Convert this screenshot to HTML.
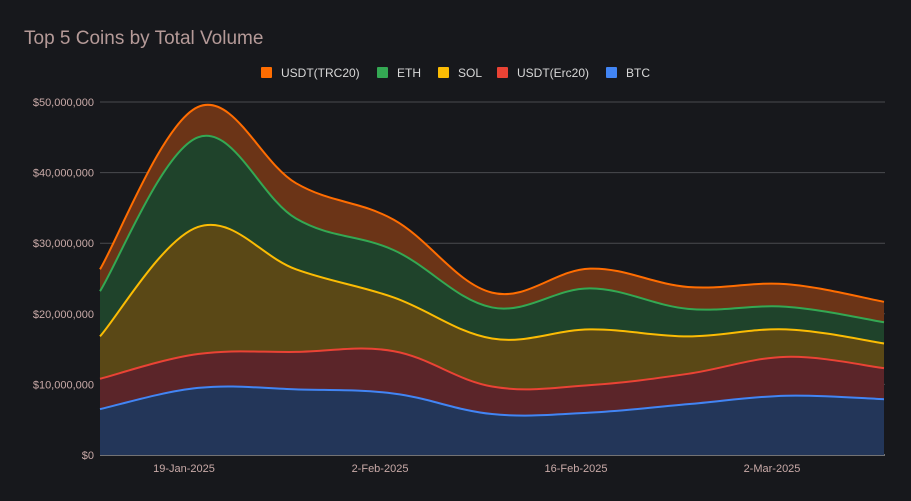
<!DOCTYPE html>
<html><head><meta charset="utf-8"><style>
body{margin:0;background:#17181c;}
svg{display:block;font-family:"Liberation Sans",sans-serif;}
</style></head><body>
<svg id="chart" width="911" height="501">
<rect width="911" height="501" fill="#17181c"/>
<text x="24" y="44" font-size="19" fill="#b59a98">Top 5 Coins by Total Volume</text>
<g id="legend"></g>
<g id="grid"></g>
<g id="areas"></g>
<g id="lines"></g>
<g id="axes"></g>
</svg>
<script>
const dates = ["13-Jan","20-Jan","27-Jan","3-Feb","10-Feb","17-Feb","24-Feb","3-Mar","10-Mar"];
const seriesNames = ["BTC","USDT(Erc20)","SOL","ETH","USDT(TRC20)"];
const btc   = [6.5, 9.5, 9.3, 8.7, 5.8, 6.0, 7.2, 8.4, 7.9];
const erc20 = [4.3, 4.8, 5.3, 6.0, 3.9, 3.9, 4.3, 5.5, 4.4];
const sol   = [6.0, 18.0, 11.7, 7.6, 6.8, 7.9, 5.3, 3.9, 3.5];
const eth   = [6.4, 12.7, 7.2, 6.7, 4.4, 5.8, 3.9, 3.2, 3.0];
const trc20 = [3.1, 4.3, 5.0, 4.3, 2.1, 2.8, 3.1, 3.2, 2.9];
const yTicks = [0,10,20,30,40,50];
const yTickLabels = ["$0","$10,000,000","$20,000,000","$30,000,000","$40,000,000","$50,000,000"];
const xTickDays = [6,20,34,48];
const xTickLabels = ["19-Jan-2025","2-Feb-2025","16-Feb-2025","2-Mar-2025"];

const lineColors = ["#4285f4","#ea4335","#fbbc04","#34a853","#ff6d01"];
const fillColors = ["#233659","#5b2529","#5a4816","#1f432b","#6b3417"];
const X0=100, X1=884, Y0=455, Y1=102;
const xScale = d => X0 + d*(X1-X0)/56;
const yScale = v => Y0 - v*(Y0-Y1)/50;
const NS="http://www.w3.org/2000/svg";
function mk(tag, attrs, parent){const e=document.createElementNS(NS,tag);for(const k in attrs)e.setAttribute(k,attrs[k]);parent.appendChild(e);return e;}

const data=[btc,erc20,sol,eth,trc20];
const cum=[]; let acc=dates.map(()=>0);
data.forEach(s=>{acc=acc.map((a,i)=>a+s[i]);cum.push(acc.slice());});

function pts(arr){return arr.map((v,i)=>[xScale(i*7),yScale(v)]);}
function smooth(p){
  let d=`M${p[0][0]},${p[0][1]}`;
  for(let i=0;i<p.length-1;i++){
    const p0=p[Math.max(i-1,0)],p1=p[i],p2=p[i+1],p3=p[Math.min(i+2,p.length-1)];
    const t=0.18;
    const c1=[p1[0]+(p2[0]-p0[0])*t,p1[1]+(p2[1]-p0[1])*t];
    const c2=[p2[0]-(p3[0]-p1[0])*t,p2[1]-(p3[1]-p1[1])*t];
    d+=` C${c1[0]},${c1[1]} ${c2[0]},${c2[1]} ${p2[0]},${p2[1]}`;
  }
  return d;
}
function smoothRev(p){const r=p.slice().reverse();return smooth(r).replace(/^M/,'L');}

const grid=document.getElementById('grid'), axes=document.getElementById('axes');
yTicks.forEach((t,i)=>{
  const y=yScale(t);
  const l=mk('line',{x1:X0,x2:X1+1,y1:y,y2:y,stroke:i===0?'#cccccc':'#4a4a4e','stroke-width':1},grid);
  
  
  const tx=mk('text',{x:94,y:y+4,'text-anchor':'end','font-size':11,fill:'#c9aaa8'},axes);
  tx.textContent=yTickLabels[i];
  
  
});
xTickDays.forEach((d,i)=>{
  const tx=mk('text',{x:xScale(d),y:472,'text-anchor':'middle','font-size':11,fill:'#c9aaa8'},axes);
  tx.textContent=xTickLabels[i];
  
  
});

const areas=document.getElementById('areas'), lines=document.getElementById('lines');
cum.forEach((c,k)=>{
  const top=pts(c);
  const bot=k===0?dates.map((_,i)=>[xScale(i*7),Y0]):pts(cum[k-1]);
  const d=smooth(top)+' '+(k===0?`L${X1},${Y0} L${X0},${Y0}`:smoothRev(bot))+' Z';
  const a=mk('path',{d:d,fill:fillColors[k],stroke:'none'},areas);
  
  
  const l=mk('path',{d:smooth(top),fill:'none',stroke:lineColors[k],'stroke-width':2},lines);
  
  
});

const legend=document.getElementById('legend');
const legOrder=[4,3,2,1,0], legX=[261,377,438,497,606];
legOrder.forEach((k,i)=>{
  const g=mk('g',{},legend);
  
  
  mk('rect',{x:legX[i],y:67,width:11,height:11,rx:1,fill:lineColors[k]},g);
  const t=mk('text',{x:legX[i]+20,y:77,'font-size':12,fill:'#d8d8d8'},g);
  t.textContent=seriesNames[k];
});
</script>
</body></html>
